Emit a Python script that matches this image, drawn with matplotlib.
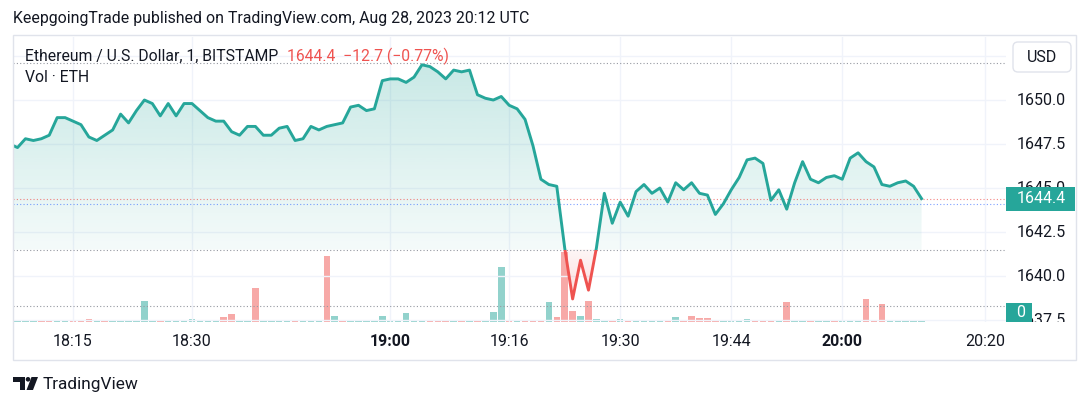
import numpy as np
import matplotlib.pyplot as plt
from matplotlib.patches import Rectangle, FancyBboxPatch, Polygon, Circle
from matplotlib.path import Path

plt.rcParams['font.family'] = ['Roboto', 'DejaVu Sans']

# ETH/USD 1-minute closes (first value is the bar just left of the visible area)
close = [
    1647.5,
    1647.3, 1647.8, 1647.7, 1647.8, 1648.0, 1649.0, 1649.0, 1648.8, 1648.6, 1647.9,
    1647.7, 1648.0, 1648.3, 1649.2, 1648.7, 1649.4, 1650.0, 1649.8, 1649.1, 1649.8,
    1649.1, 1649.8, 1649.8, 1649.4, 1649.0, 1648.8, 1648.8, 1648.2, 1648.0, 1648.5,
    1648.5, 1648.0, 1648.0, 1648.4, 1648.5, 1647.7, 1647.8, 1648.5, 1648.3, 1648.5,
    1648.6, 1648.7, 1649.6, 1649.7, 1649.4, 1649.5, 1651.1, 1651.2, 1651.2, 1651.0,
    1651.3, 1652.0, 1651.9, 1651.6, 1651.2, 1651.7, 1651.6, 1651.7, 1650.3, 1650.1,
    1650.0, 1650.2, 1649.7, 1649.5, 1648.9, 1647.4, 1645.5, 1645.2, 1645.1, 1641.6,
    1638.7, 1640.9, 1639.2, 1641.6, 1644.7, 1643.0, 1644.2, 1643.4, 1644.8, 1645.2,
    1644.7, 1645.0, 1644.2, 1645.3, 1644.9, 1645.3, 1644.7, 1644.6, 1643.5, 1644.1,
    1644.9, 1645.6, 1646.6, 1646.7, 1646.4, 1644.3, 1644.9, 1643.8, 1645.3, 1646.5,
    1645.5, 1645.3, 1645.6, 1645.7, 1645.5, 1646.7, 1647.0, 1646.5, 1646.2, 1645.2,
    1645.1, 1645.3, 1645.4, 1645.1, 1644.4,
]

# volume per bar (ETH) and bar direction (u = up, d = down)
vol = [
    5, 8, 8, 5, 8, 8, 5, 5, 6, 12,
    7, 5, 7, 5, 5, 5, 84, 5, 7, 5,
    5, 5, 12, 5, 5, 5, 21, 33, 7, 8,
    136, 8, 5, 8, 5, 5, 8, 5, 5, 264,
    25, 9.2, 7, 5, 7, 5, 25, 9.2, 5, 36,
    7, 7, 5, 8, 7, 5, 7, 8, 10, 5,
    39, 220, 7, 5, 7, 5, 7, 80, 20, 280,
    44, 23, 83, 11, 7, 5, 13, 7, 5, 7,
    5, 5, 5, 19, 7, 25, 17, 17, 5, 5,
    7, 7, 11, 7, 6, 7, 5, 79, 7, 5,
    5, 5, 5, 6, 5, 5, 5, 91, 7, 71,
    5, 5, 5, 5, 5,
]
vol_dir = list("uuudduuddd" "uduuuuuudu" "uuuuuudduu" "duuuuduuud" "uduuuuuuuu"
               "uudddududu" "uududddudd" "duduududuu" "uududddddu" "uuuddduduu"
               "duuduuuddd" "uuuuu")

time_idx = [7, 22, 47, 62, 76, 90, 104, 122]
time_labels = ["18:15", "18:30", "19:00", "19:16", "19:30", "19:44", "20:00", "20:20"]
bold_labels = ["19:00", "20:00"]
grid_prices = [1637.5, 1640.0, 1642.5, 1645.0, 1647.5, 1650.0, 1652.5]
price_labels = [1637.5, 1640.0, 1642.5, 1645.0, 1647.5, 1650.0]

base_level = 1641.5
last_price = 1644.4
ask_price = 1644.4
bid_price = 1644.1
top_line = 1652.1

TEAL = '#26A69A'
RED = '#EF5350'
TXT = '#131722'

W, H = 1090, 407
fig = plt.figure(figsize=(W / 100, H / 100), dpi=100)
fig.patch.set_facecolor('white')


def fr(x0, y0, x1, y1):
    return [x0 / W, 1 - y1 / H, (x1 - x0) / W, (y1 - y0) / H]


L, R, T, B = 13, 1006, 37, 322
xlim = (-0.57, 124.65)
ylim = (1637.39, 1653.58)

# volume pane underneath
axv = fig.add_axes(fr(L, T, R, B))
axv.set_zorder(0)
xv = np.arange(len(vol))
vcol = ['#92D2CC' if d == 'u' else '#F7A9A7' for d in vol_dir]
axv.bar(xv, vol, width=0.82, color=vcol, linewidth=0)
axv.set_xlim(xlim)
axv.set_ylim(0, 1140)
axv.axis('off')

# price pane
ax = fig.add_axes(fr(L, T, R, B))
ax.set_zorder(1)
ax.patch.set_alpha(0)
xc = np.arange(-1, len(close) - 1)
yc = np.array(close)

up = ax.fill_between(xc, base_level, yc, where=yc >= base_level, interpolate=True,
                     facecolor='none', edgecolor='none')
dn = ax.fill_between(xc, base_level, yc, where=yc < base_level, interpolate=True,
                     facecolor='none', edgecolor='none')


def grad_img(rgb, a0, a1):
    img = np.zeros((256, 1, 4))
    img[..., 0], img[..., 1], img[..., 2] = rgb
    img[:, 0, 3] = np.linspace(a0, a1, 256)
    return img


im_up = ax.imshow(grad_img((38 / 255, 166 / 255, 154 / 255), 0.05, 0.28),
                  extent=[xc[0], xc[-1], base_level, ylim[1]], origin='lower',
                  aspect='auto', zorder=1)
im_up.set_clip_path(Path.make_compound_path(*up.get_paths()), transform=ax.transData)
im_dn = ax.imshow(grad_img((239 / 255, 83 / 255, 80 / 255), 0.28, 0.05),
                  extent=[xc[0], xc[-1], ylim[0], base_level], origin='lower',
                  aspect='auto', zorder=1)
im_dn.set_clip_path(Path.make_compound_path(*dn.get_paths()), transform=ax.transData)

ln_up, = ax.plot(xc, yc, color=TEAL, lw=2.1, zorder=3, solid_joinstyle='round')
ln_up.set_clip_path(Rectangle((xlim[0], base_level), xlim[1] - xlim[0], ylim[1] - base_level,
                              transform=ax.transData))
ln_dn, = ax.plot(xc, yc, color=RED, lw=2.1, zorder=3, solid_joinstyle='round')
ln_dn.set_clip_path(Rectangle((xlim[0], ylim[0]), xlim[1] - xlim[0], base_level - ylim[0],
                              transform=ax.transData))

dot = (0, (1, 2))
ax.axhline(top_line, color='#9598A1', lw=0.8, ls=dot, zorder=2)
ax.axhline(base_level, color='#9598A1', lw=0.8, ls=dot, zorder=2)
ax.axhline(ask_price, color=RED, lw=0.8, ls=dot, alpha=0.7, zorder=2)
ax.axhline(bid_price, color='#2962FF', lw=0.8, ls=dot, alpha=0.6, zorder=2)
ax.axhline(ylim[0] + (ylim[1] - ylim[0]) * 16 / 285, color='#9598A1', lw=0.8, ls=dot, zorder=2)

ax.set_xlim(xlim)
ax.set_ylim(ylim)
ax.set_xticks(time_idx)
ax.set_xticklabels(time_labels)
for lab in ax.get_xticklabels():
    if lab.get_text() in bold_labels:
        lab.set_fontweight('bold')
ax.set_yticks(grid_prices)
ax.tick_params(axis='x', length=0, pad=9, labelsize=11.5, labelcolor=TXT)
ax.tick_params(axis='y', length=0, labelleft=False)
ax.grid(color='#F0F3FA', lw=1, zorder=0.5)
ax.set_axisbelow(True)
for s in ax.spines.values():
    s.set_visible(False)

# price scale
axs = fig.add_axes(fr(R, T, 1076, B))
axs.set_xlim(0, 70)
axs.set_ylim(ylim)
axs.axis('off')
for p in price_labels:
    axs.text(11, p, f"{p:.1f}", va='center', ha='left', fontsize=11.5, color=TXT, clip_on=True)
ppu = (B - T) / (ylim[1] - ylim[0])
bh = 24 / ppu
axs.add_patch(Rectangle((0, last_price - bh / 2), 69, bh, color=TEAL, zorder=4, lw=0))
axs.text(11, last_price, f"{last_price:.1f}", va='center', ha='left', fontsize=11.5,
         color='white', zorder=5)

# overlay in pixel coordinates
axo = fig.add_axes([0, 0, 1, 1])
axo.set_zorder(5)
axo.patch.set_alpha(0)
axo.set_xlim(0, W)
axo.set_ylim(H, 0)
axo.axis('off')

axo.add_patch(Rectangle((13, 35), 1063, 325, fill=False, ec='#E0E3EB', lw=1))
axo.add_patch(FancyBboxPatch((1013, 42), 58, 30, boxstyle='round,pad=0,rounding_size=5',
                             fc='white', ec='#E0E3EB', lw=1))
axo.text(1042, 57.5, "USD", ha='center', va='center', fontsize=11.5, color=TXT)
axo.add_patch(Rectangle((1006, 303), 26, 19, color=TEAL, lw=0))
axo.text(1021, 312.5, "0", ha='center', va='center', fontsize=11.5, color='white')

axo.text(13, 19, "KeepgoingTrade published on TradingView.com, Aug 28, 2023 20:12 UTC",
         va='center', ha='left', fontsize=11.4, color=TXT)
axo.text(25, 56, "Ethereum / U.S. Dollar, 1, BITSTAMP", va='center', ha='left',
         fontsize=11.3, color=TXT)
axo.text(287, 56, "1644.4  \u221212.7 (\u22120.77%)", va='center', ha='left',
         fontsize=11.3, color=RED)
axo.text(25, 78, "Vol \u00b7 ETH", va='center', ha='left', fontsize=11.3, color=TXT)

# TradingView logo
axo.add_patch(Polygon([(13, 377), (24.5, 377), (24.5, 390), (19.5, 390), (19.5, 381.5), (13, 381.5)],
                      color=TXT, lw=0))
axo.add_patch(Circle((28, 379.3), 2.3, color=TXT, lw=0))
axo.add_patch(Polygon([(31.5, 377), (38, 377), (33, 390), (26.5, 390)], color=TXT, lw=0))
axo.text(43, 384, "TradingView", va='center', ha='left', fontsize=12.4, color=TXT)

fig.savefig('out.png', dpi=100)
